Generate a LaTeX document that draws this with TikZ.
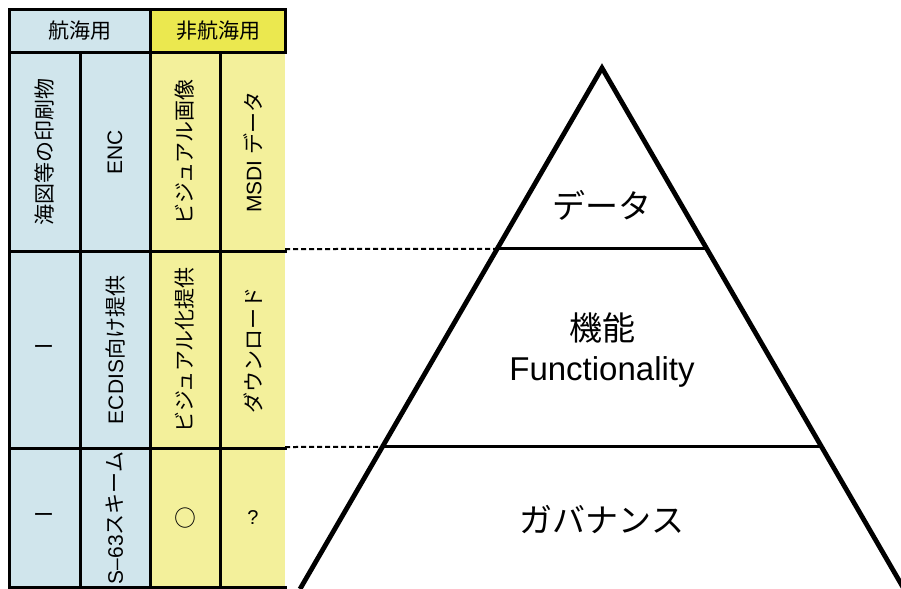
\documentclass[tikz,border=0pt]{standalone}
\usepackage{fontspec}
\setmainfont{Liberation Sans}
\newfontfamily\jpfont{Noto Sans CJK JP}
\usetikzlibrary{calc}
\definecolor{navblue}{HTML}{D0E5EC}
\definecolor{nonnavhead}{HTML}{EBE84F}
\definecolor{nonnavcell}{HTML}{F3F09B}
\tikzset{
	gridline/.style={line width=1.5pt, line cap=rect},
	headtext/.style={font=\fontsize{10.5}{12}\jpfont},
	celltext/.style={rotate=90, font=\fontsize{10.5}{12}\selectfont},
	layertext/.style={font=\fontsize{16.5}{20}\selectfont, align=center},
	guide/.style={dashed, dash pattern=on 2.5pt off 1.5pt, line width=1pt}
}
\begin{document}
\begin{tikzpicture}[x=.5pt, y=-.5pt]
	\useasboundingbox (0,0) rectangle (901,589);
	% table
	\fill[navblue] (9,9) rectangle (150,587);
	\fill[nonnavhead] (150,9) rectangle (285,52);
	\fill[nonnavcell] (150,52) rectangle (285,587);
	\draw[gridline] (9,587) -- (9,9) -- (285,9) -- (285,52);
	\draw[gridline] (9,52) -- (285,52);
	\draw[gridline] (9,251) -- (285,251);
	\draw[gridline] (9,448) -- (285,448);
	\draw[gridline] (9,587) -- (285,587);
	\draw[gridline] (80,52) -- (80,587);
	\draw[gridline] (150,9) -- (150,587);
	\draw[gridline] (220,52) -- (220,587);
	\node[headtext] (nav) at (80,31) {航海用};
	\node[headtext] (nonnav) at (218,31) {非航海用};
	\node[celltext] (print) at (44,152) {\jpfont 海図等の印刷物};
	\node[celltext] (enc) at (115,152) {ENC};
	\node[celltext] (visimg) at (185,152) {\jpfont ビジュアル画像};
	\node[celltext] (msdi) at (253,152) {MSDI {\jpfont データ}};
	\node[headtext] (printf) at (44,350) {ー};
	\node[celltext] (ecdis) at (115,350) {ECDIS{\jpfont 向け提供}};
	\node[celltext] (visprov) at (185,350) {\jpfont ビジュアル化提供};
	\node[celltext] (download) at (253,350) {\jpfont ダウンロード};
	\node[headtext] (printg) at (44,518) {ー};
	\node[celltext] (scheme) at (115,518) {S--63{\jpfont スキーム}};
	\node[headtext, font=\fontsize{11}{13}\selectfont] (visgov) at (185,518) {$\bigcirc$};
	\node[font=\fontsize{10}{12}\selectfont] (msdigov) at (253,518) {?};
	% pyramid
	\coordinate (apex) at (602,68);
	\coordinate (bl) at (300,589);
	\coordinate (br) at (904,589);
	\coordinate (d1l) at ($(apex)!.3474!(bl)$);
	\coordinate (d1r) at ($(apex)!.3474!(br)$);
	\coordinate (d2l) at ($(apex)!.7274!(bl)$);
	\coordinate (d2r) at ($(apex)!.7274!(br)$);
	\draw[line width=2.4pt, line join=miter] (bl) -- (apex) -- (br);
	\draw[line width=1.5pt] (d1l) -- (d1r);
	\draw[line width=1.5pt] (d2l) -- (d2r);
	\coordinate (t1) at (285,249);
	\coordinate (t2) at (285,447);
	\draw[guide] (t1) -- (d1l);
	\draw[guide] (t2) -- (d2l);
	\node[layertext] (data) at (602,205) {\jpfont データ};
	\node[layertext] (func) at (602,350) {{\jpfont 機能}\\Functionality};
	\node[layertext] (gov) at (602,520) {\jpfont ガバナンス};
\end{tikzpicture}
\end{document}
